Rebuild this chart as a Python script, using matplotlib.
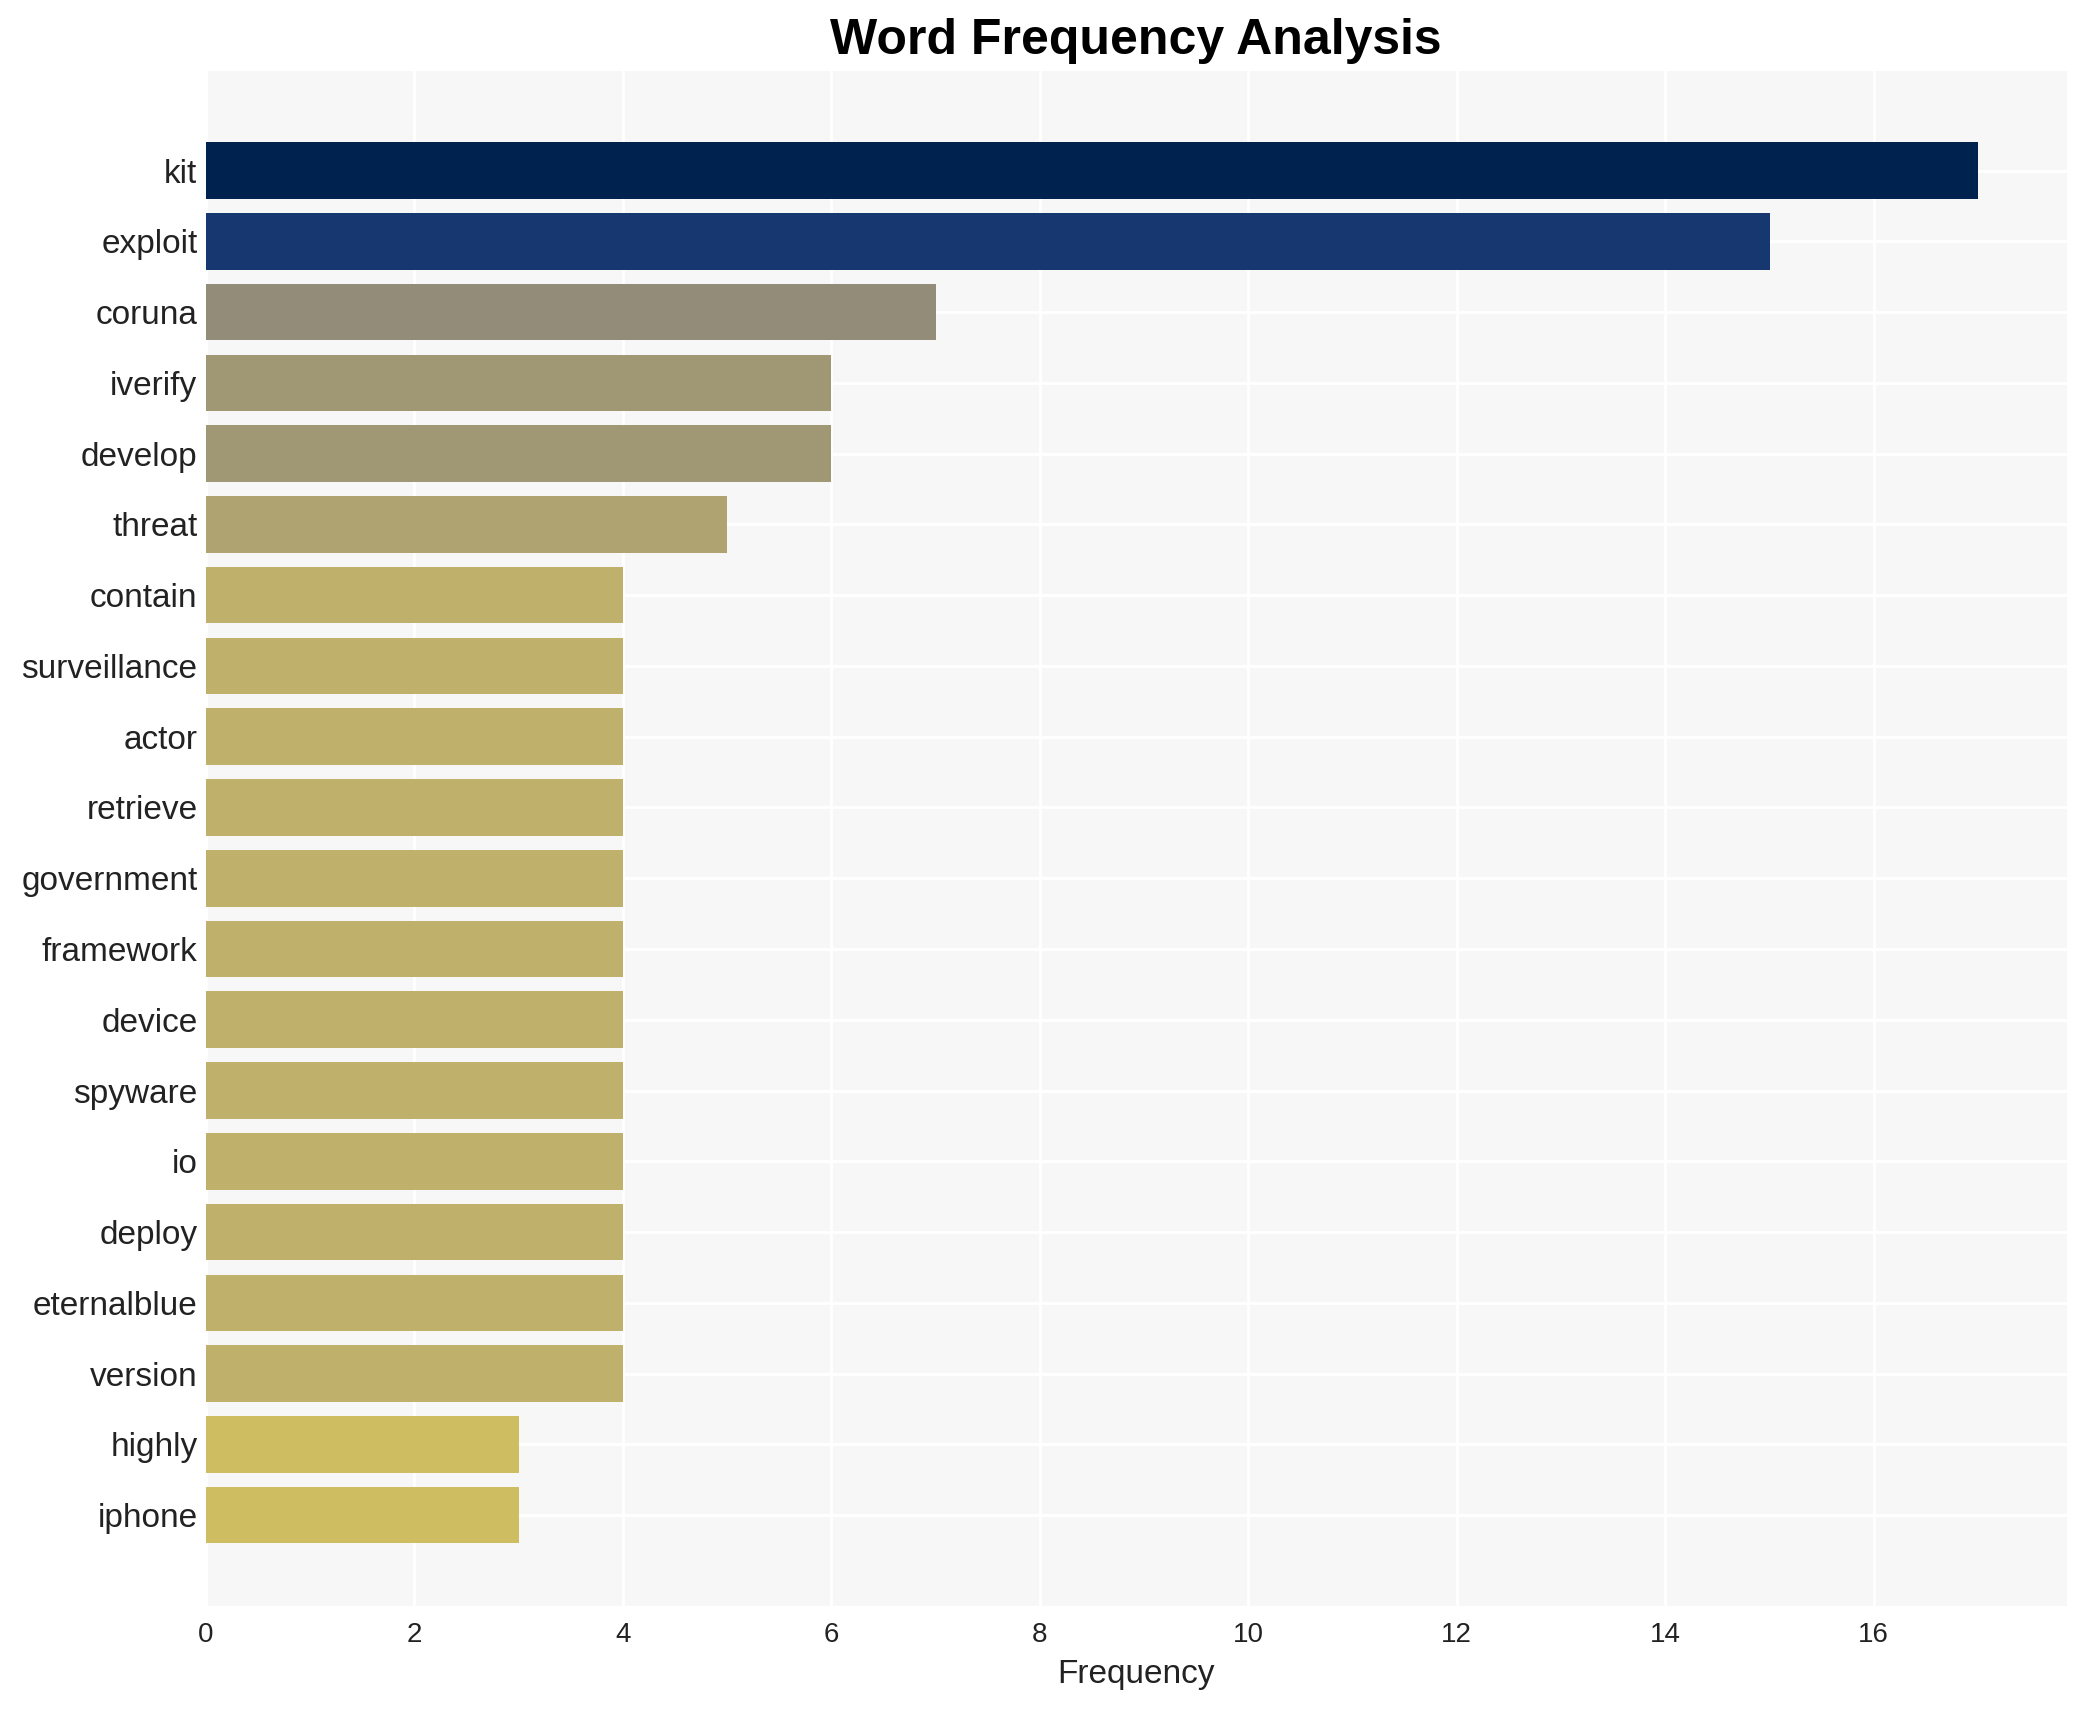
import matplotlib.pyplot as plt
import numpy as np

words = ['kit', 'exploit', 'coruna', 'iverify', 'develop', 'threat', 'contain',
         'surveillance', 'actor', 'retrieve', 'government', 'framework', 'device',
         'spyware', 'io', 'deploy', 'eternalblue', 'version', 'highly', 'iphone']
counts = [17, 15, 7, 6, 6, 5, 4, 4, 4, 4, 4, 4, 4, 4, 4, 4, 4, 4, 3, 3]

plt.rcParams['font.family'] = ['Liberation Sans', 'DejaVu Sans']

fig = plt.figure(figsize=(10.425, 8.55), dpi=200)
ax = fig.add_axes([0.0987, 0.061, 0.8925, 0.8976])

vals = np.array(counts)
colores = plt.cm.cividis(1 - vals / vals.max())  # mais alto = mais escuro
y = np.arange(len(words))
ax.barh(y, vals, height=0.8, color=colores, zorder=3)

ax.set_facecolor('#f7f7f7')
ax.grid(True, color='white', linewidth=1.0, zorder=0)
ax.set_axisbelow(True)
for s in ax.spines.values():
    s.set_visible(False)

ax.set_yticks(y)
ax.set_yticklabels(words, fontsize=12, color='#222222')
ax.set_xticks(np.arange(0, 17, 2))
ax.tick_params(axis='x', labelsize=10, colors='#222222', length=0, pad=6)
ax.tick_params(axis='y', length=0, pad=3)
ax.set_xlim(0, vals.max() * 1.05)
ax.set_ylim(len(words) - 1 + 1.28, -1.41)

ax.set_xlabel('Frequency', fontsize=12, color='#222222', labelpad=4)
ax.set_title('Word Frequency Analysis', fontsize=18, fontweight='bold', pad=6)

fig.savefig('out.png', dpi=200)
